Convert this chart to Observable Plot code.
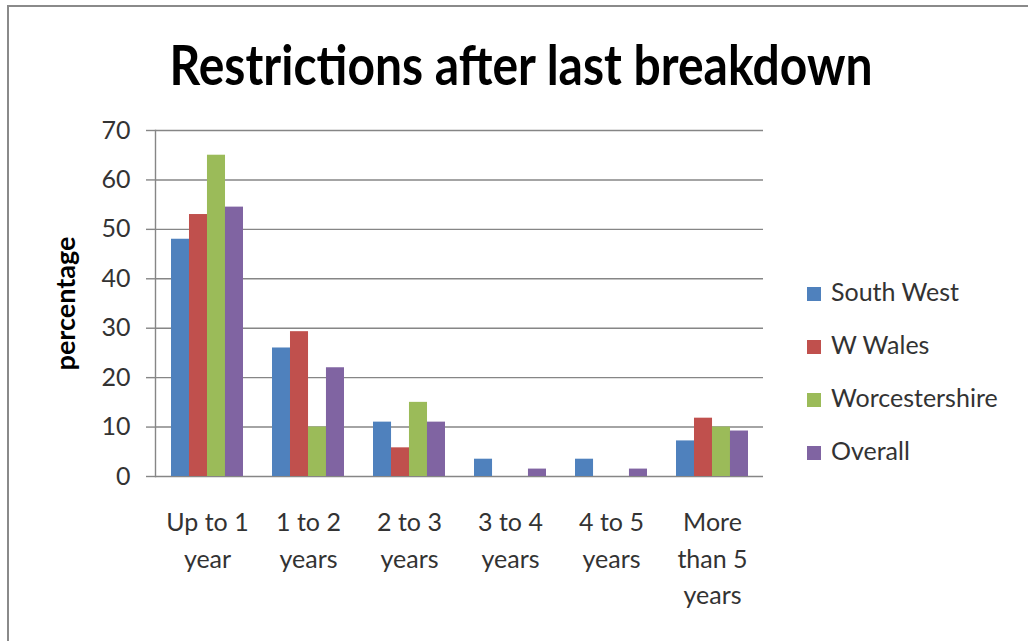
<!DOCTYPE html>
<html>
<head>
<meta charset="utf-8">
<script src="https://cdn.jsdelivr.net/npm/d3@7"></script>
<script src="https://cdn.jsdelivr.net/npm/@observablehq/plot@0.6"></script>
<style>
  html, body { margin: 0; padding: 0; background: #fff; }
  #wrap { position: relative; width: 1028px; height: 641px; overflow: hidden; font-family: Lato, "Open Sans", sans-serif; color: #333; }
  #border { position: absolute; left: 7px; top: 5px; width: 1100px; height: 700px; border: 2.5px solid #8a8a8a; box-sizing: border-box; }
  #title { position: absolute; top: 36px; left: 521px; white-space: nowrap; font-weight: 700; font-size: 56px; color: #000; transform-origin: 0 0; line-height: 1; }
  #chart { position: absolute; left: 0; top: 0; }
  .leg { position: absolute; left: 807px; font-size: 25px; color: #333; white-space: nowrap; line-height: 1; }
  .leg span.sw { display: inline-block; width: 14px; height: 14px; margin-right: 10px; vertical-align: 0px; }
</style>
</head>
<body>
<div id="wrap">
  <div id="border"></div>
  <div id="chart"></div>
  <div id="title">Restrictions after last breakdown</div>
  <div id="legend"></div>
</div>
<script>
const categories = ["Up to 1 year", "1 to 2 years", "2 to 3 years", "3 to 4 years", "4 to 5 years", "More than 5 years"];
const tickLabels = ["Up to 1\nyear", "1 to 2\nyears", "2 to 3\nyears", "3 to 4\nyears", "4 to 5\nyears", "More\nthan 5\nyears"];
const seriesNames = ["South West", "W Wales", "Worcestershire", "Overall"];
const seriesColors = ["#4F81BD", "#C0504D", "#9BBB59", "#8064A2"];
const southWest = [48, 26, 11, 3.5, 3.5, 7.2];
const wWales = [53, 29.3, 5.8, null, null, 11.8];
const worcestershire = [65, 10, 15, null, null, 10];
const overall = [54.5, 22, 11, 1.5, 1.5, 9.2];
const yTicks = [0, 10, 20, 30, 40, 50, 60, 70];

const seriesValues = [southWest, wWales, worcestershire, overall];

const W = 1028, H = 641;
const mL = 155, mR = 265, mT = 130, mB = 165;
const padInner = 0.29, padOuter = 0.145;
const step = (W - mL - mR) / (categories.length - padInner + 2 * padOuter);
const bw = step * (1 - padInner);
const barW = bw / seriesNames.length;

const barMarks = seriesValues.map((vals, i) => {
  const data = categories.map((c, j) => ({category: c, value: vals[j]})).filter(d => d.value != null);
  return Plot.barY(data, {
    x: "category", y: "value", fill: seriesColors[i],
    insetLeft: i * barW, insetRight: (seriesNames.length - 1 - i) * barW
  });
});

const fmt = new Map(categories.map((c, i) => [c, tickLabels[i]]));

const chart = Plot.plot({
  width: W, height: H,
  marginLeft: mL, marginRight: mR, marginTop: mT, marginBottom: mB,
  style: {fontFamily: "Lato, 'Open Sans', sans-serif", background: "transparent", color: "#333"},
  x: {domain: categories, paddingInner: padInner, paddingOuter: padOuter},
  y: {domain: [0, 70]},
  marks: [
    Plot.ruleY(yTicks, {stroke: "#868686", strokeWidth: 1.4}),
    ...barMarks,
    Plot.frame({anchor: "left", stroke: "#868686", strokeWidth: 1.4}),
    Plot.axisY({ticks: yTicks, tickSize: 9, tickPadding: 16, fontSize: 25, label: null, stroke: "#868686", strokeWidth: 1.4, fill: "#333"}),
    Plot.axisX({tickSize: 0, tickPadding: 29, fontSize: 25, lineHeight: 1.46, label: null, tickFormat: d => fmt.get(d), fill: "#333"}),
    Plot.text(["percentage"], {frameAnchor: "left", textAnchor: "middle", rotate: -90, dx: -89, fontSize: 27, fontWeight: "bold", fill: "#000"})
  ]
});
document.getElementById("chart").appendChild(chart);

// legend
const legend = document.getElementById("legend");
const rowY = [292, 345, 398, 451];
seriesNames.forEach((n, i) => {
  const d = document.createElement("div");
  d.className = "leg";
  d.style.top = (rowY[i] - 13) + "px";
  d.innerHTML = `<span class="sw" style="background:${seriesColors[i]}"></span>${n}`;
  legend.appendChild(d);
});

// fit title width to reference
const t = document.getElementById("title");
const tw = t.getBoundingClientRect().width;
const target = 703;
const s = target / tw;
t.style.transform = `scaleX(${s}) translateX(${-tw / 2}px)`;
</script>
</body>
</html>
